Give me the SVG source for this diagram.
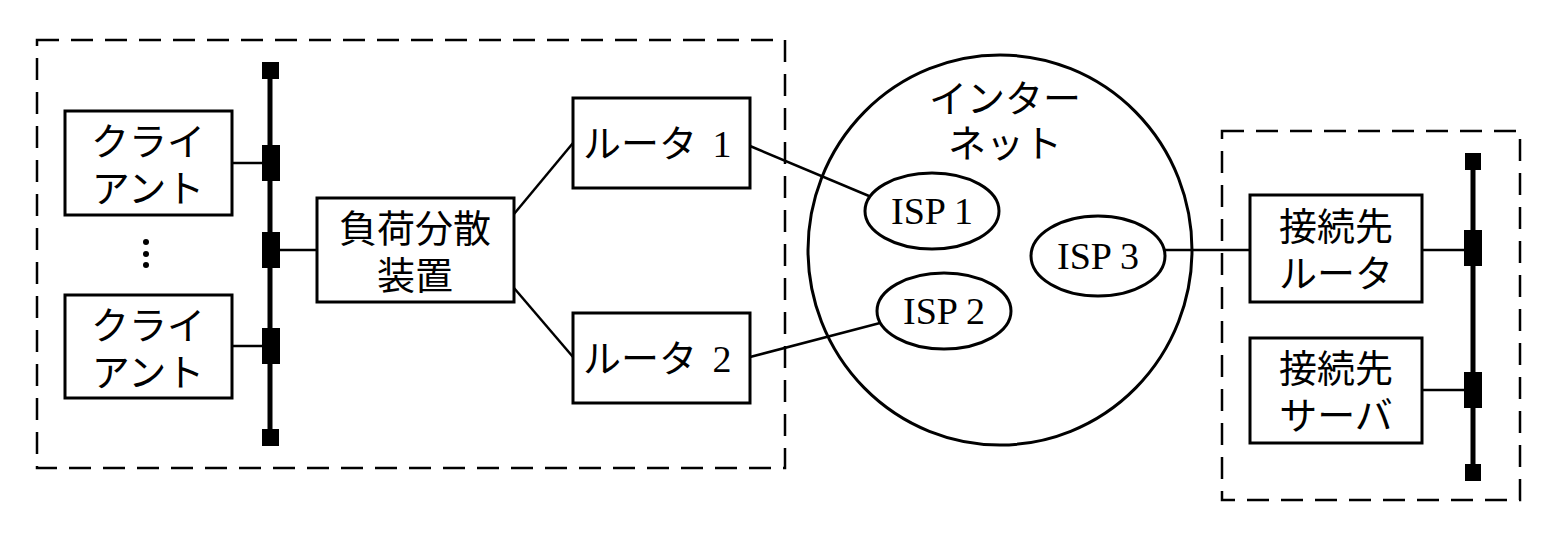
<svg xmlns="http://www.w3.org/2000/svg" width="1552" height="540" viewBox="0 0 1552 540">
<style>
.b{fill:#fff;stroke:#000;stroke-width:3}
.d{fill:none;stroke:#000;stroke-width:2.5;stroke-dasharray:22,12}
.l{stroke:#000;stroke-width:2.5;fill:none}
.bus{stroke:#000;stroke-width:5}
.t{font-family:"Noto Sans CJK JP",sans-serif;font-size:38px;text-anchor:middle;fill:#000}
.s{font-family:"Liberation Serif",serif;font-size:38px;text-anchor:middle;fill:#000}
</style>
<rect class="d" x="37" y="40" width="748" height="428"/>
<rect class="d" x="1222" y="131" width="298" height="369"/>
<g id="internet"><ellipse cx="1000" cy="250" rx="192" ry="195" fill="none" stroke="#000" stroke-width="3"/><text class="t" x="1005" y="112">インター</text><text class="t" x="1005" y="157">ネット</text></g>
<g id="bus-left">
<line class="bus" x1="270" y1="70" x2="270" y2="438"/>
<rect x="262" y="62" width="17" height="17"/><rect x="262" y="429" width="17" height="17"/>
<rect x="262" y="145" width="18" height="36"/><rect x="262" y="232" width="18" height="36"/><rect x="262" y="328" width="18" height="36"/>
</g>
<g id="bus-right">
<line class="bus" x1="1473" y1="160" x2="1473" y2="472"/>
<rect x="1465" y="153" width="16" height="17"/><rect x="1465" y="464" width="16" height="17"/>
<rect x="1464" y="230" width="18" height="36"/><rect x="1464" y="372" width="18" height="36"/>
</g>
<g id="connectors">
<line class="l" x1="232" y1="163" x2="262" y2="163"/>
<line class="l" x1="232" y1="346" x2="262" y2="346"/>
<line class="l" x1="280" y1="250" x2="317" y2="250"/>
<line class="l" x1="514" y1="214" x2="573" y2="143"/>
<line class="l" x1="514" y1="288" x2="573" y2="357"/>
<line class="l" x1="750" y1="146" x2="869" y2="196"/>
<line class="l" x1="750" y1="357" x2="880" y2="323"/>
<line class="l" x1="1165" y1="250" x2="1250" y2="250"/>
<line class="l" x1="1422" y1="250" x2="1464" y2="250"/>
<line class="l" x1="1422" y1="390" x2="1464" y2="390"/>
</g>
<g id="client1"><rect class="b" x="65" y="111" width="167" height="104"/><text class="t" x="148" y="155">クライ</text><text class="t" x="148" y="202">アント</text></g>
<g id="dots"><circle cx="146" cy="242" r="3"/><circle cx="146" cy="254" r="3"/><circle cx="146" cy="265" r="3"/></g>
<g id="client2"><rect class="b" x="65" y="295" width="167" height="103"/><text class="t" x="148" y="339">クライ</text><text class="t" x="148" y="386">アント</text></g>
<g id="lb"><rect class="b" x="317" y="198" width="197" height="104"/><text class="t" x="415" y="242">負荷分散</text><text class="t" x="415" y="289">装置</text></g>
<g id="router1"><rect class="b" x="573" y="98" width="177" height="90"/><text class="t" x="640" y="157">ルータ</text><text class="s" x="722" y="157">1</text></g>
<g id="router2"><rect class="b" x="573" y="313" width="177" height="90"/><text class="t" x="640" y="372">ルータ</text><text class="s" x="722" y="372">2</text></g>
<g id="isp1"><ellipse class="b" cx="932" cy="211" rx="67" ry="38"/><text class="s" x="932" y="224">ISP 1</text></g>
<g id="isp2"><ellipse class="b" cx="944" cy="311" rx="67" ry="38"/><text class="s" x="944" y="324">ISP 2</text></g>
<g id="isp3"><ellipse class="b" cx="1098" cy="256" rx="67" ry="40"/><text class="s" x="1098" y="269">ISP 3</text></g>
<g id="dest-router"><rect class="b" x="1250" y="195" width="172" height="107"/><text class="t" x="1336" y="240">接続先</text><text class="t" x="1336" y="287">ルータ</text></g>
<g id="dest-server"><rect class="b" x="1250" y="338" width="172" height="105"/><text class="t" x="1336" y="382">接続先</text><text class="t" x="1336" y="429">サーバ</text></g>
</svg>
